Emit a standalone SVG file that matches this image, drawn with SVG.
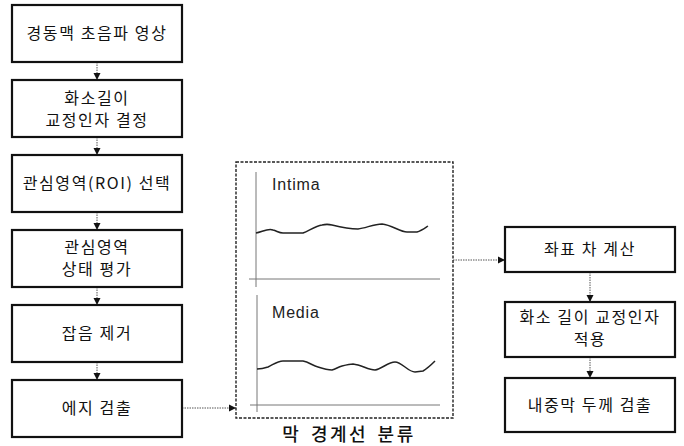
<svg xmlns="http://www.w3.org/2000/svg" width="684" height="446" viewBox="0 0 684 446">
<style>
.box{fill:#fff;stroke:#111;stroke-width:2.2}
.t{font-family:"Noto Sans CJK KR","Noto Sans",sans-serif;font-size:16px;fill:#111;text-anchor:middle;letter-spacing:1.6px}
.c{fill:none;stroke:#555;stroke-width:1;stroke-dasharray:1.5 1}
.ax{fill:none;stroke:#777;stroke-width:1}
.wave{fill:none;stroke:#222;stroke-width:1.5}
.lbl{font-family:"Liberation Sans","DejaVu Sans",sans-serif;font-size:16px;fill:#222;letter-spacing:0.8px}
</style>
<defs>
<marker id="ah" markerWidth="8" markerHeight="8" refX="7" refY="4" orient="auto" markerUnits="userSpaceOnUse">
<path d="M0,0.5 L7,4 L0,7.5 Z" fill="#111"/>
</marker>
</defs>
<g id="connectors">
<line class="c" x1="97" y1="62" x2="97" y2="80" marker-end="url(#ah)"/>
<line class="c" x1="97" y1="137" x2="97" y2="155" marker-end="url(#ah)"/>
<line class="c" x1="97" y1="212" x2="97" y2="230" marker-end="url(#ah)"/>
<line class="c" x1="97" y1="287" x2="97" y2="305" marker-end="url(#ah)"/>
<line class="c" x1="97" y1="362" x2="97" y2="380" marker-end="url(#ah)"/>
<line class="c" x1="182" y1="408" x2="236" y2="408" marker-end="url(#ah)"/>
<line class="c" x1="453" y1="260" x2="505" y2="260" marker-end="url(#ah)"/>
<line class="c" x1="590" y1="272" x2="590" y2="302" marker-end="url(#ah)"/>
<line class="c" x1="590" y1="357" x2="590" y2="378" marker-end="url(#ah)"/>
</g>
<g id="n1"><rect class="box" x="12" y="5" width="170" height="57"/><text class="t" x="97" y="39">경동맥 초음파 영상</text></g>
<g id="n2"><rect class="box" x="12" y="80" width="170" height="57"/><text class="t" x="97" y="104">화소길이</text><text class="t" x="97" y="126">교정인자 결정</text></g>
<g id="n3"><rect class="box" x="12" y="155" width="170" height="57"/><text class="t" x="97" y="189">관심영역(ROI) 선택</text></g>
<g id="n4"><rect class="box" x="12" y="230" width="170" height="57"/><text class="t" x="97" y="253">관심영역</text><text class="t" x="97" y="275">상태 평가</text></g>
<g id="n5"><rect class="box" x="12" y="305" width="170" height="57"/><text class="t" x="97" y="339">잡음 제거</text></g>
<g id="n6"><rect class="box" x="12" y="380" width="170" height="57"/><text class="t" x="97" y="414">에지 검출</text></g>
<g id="boundary">
<rect x="236" y="162" width="217" height="256" fill="none" stroke="#222" stroke-width="1.4" stroke-dasharray="3 1.5"/>
<line class="ax" x1="256" y1="172" x2="256" y2="287"/>
<line class="ax" x1="249" y1="279" x2="440" y2="279"/>
<text class="lbl" x="272" y="190">Intima</text>
<path class="wave" d="M256,233 C262,232 268,228 273,230 C277,231 279,233 283,233 L303,233 C310,230 316,226 322,225 C326,224 328,224 332,225 C340,227 350,229 358,229 C366,228 374,224 382,224 C392,225 400,232 407,232 L417,232 C421,231 425,228 428,226"/>
<line class="ax" x1="257" y1="295" x2="257" y2="412"/>
<line class="ax" x1="250" y1="405" x2="440" y2="405"/>
<text class="lbl" x="272" y="318">Media</text>
<path class="wave" d="M257,369 C262,369 265,368 268,367 C274,364 278,361 283,361 L303,361 C309,362 313,366 318,367 C324,369 328,370 332,370 C336,369 338,367 342,366 C346,365 350,364 353,364 C362,365 368,370 375,370 C382,369 388,362 395,362 C402,362 408,372 415,372 L423,371 C428,368 432,364 435,361"/>
<text x="349" y="441" font-family="Noto Sans CJK KR,Noto Sans,sans-serif" font-size="18" font-weight="500" fill="#111" text-anchor="middle" letter-spacing="2.5" word-spacing="3">막 경계선 분류</text>
</g>
<g id="r1"><rect class="box" x="505" y="227" width="170" height="45"/><text class="t" x="590" y="255">좌표 차 계산</text></g>
<g id="r2"><rect class="box" x="505" y="302" width="170" height="55"/><text class="t" x="590" y="323">화소 길이 교정인자</text><text class="t" x="590" y="345">적용</text></g>
<g id="r3"><rect class="box" x="505" y="378" width="170" height="54"/><text class="t" x="590" y="411">내중막 두께 검출</text></g>
</svg>
